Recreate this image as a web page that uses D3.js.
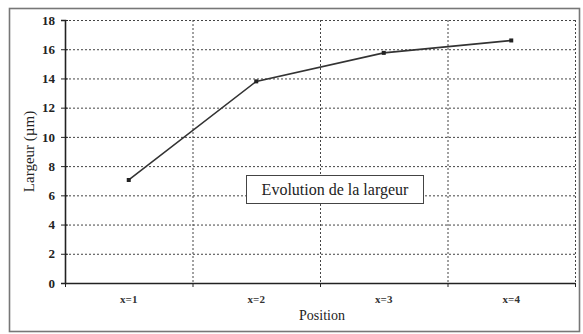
<!DOCTYPE html>
<html>
<head>
<meta charset="utf-8">
<script src="https://cdn.jsdelivr.net/npm/d3@7"></script>
<style>
  html, body { margin: 0; padding: 0; background: #fff; }
  svg { display: block; }
</style>
</head>
<body>
<svg id="chart" width="583" height="334"></svg>
<script>
// Largeur mesurée par position
const positions = ["x=1", "x=2", "x=3", "x=4"];
const largeurs = [7.05, 13.8, 15.75, 16.6];
const yTicks = [0, 2, 4, 6, 8, 10, 12, 14, 16, 18];
const seriesLabel = "Evolution de la largeur";
const xTitle = "Position";
const yTitle = "Largeur (µm)";

const svg = d3.select("#chart");
const plot = { left: 65, right: 575, top: 20, bottom: 283 };

// outer frame
svg.append("rect")
  .attr("x", 9.5).attr("y", 8.5)
  .attr("width", 570).attr("height", 323)
  .attr("fill", "#fff")
  .attr("stroke", "#777").attr("stroke-width", 1.6);

const x = d3.scaleBand().domain(positions).range([plot.left, plot.right]);
const y = d3.scaleLinear().domain([0, 18]).range([plot.bottom, plot.top]);

const serif = "'Liberation Serif', 'DejaVu Serif', serif";

// horizontal grid
svg.append("g")
  .selectAll("line")
  .data(yTicks.filter(d => d > 0))
  .join("line")
  .attr("x1", plot.left).attr("x2", plot.right)
  .attr("y1", d => y(d) + 0.5).attr("y2", d => y(d) + 0.5)
  .attr("stroke", "#444").attr("stroke-width", 1)
  .attr("stroke-dasharray", "2,2");

// vertical grid at category boundaries
const bounds = positions.slice(1).map(p => x(p)).concat([plot.right]);
svg.append("g")
  .selectAll("line")
  .data(bounds)
  .join("line")
  .attr("x1", d => d + 0.5).attr("x2", d => d + 0.5)
  .attr("y1", plot.top).attr("y2", plot.bottom)
  .attr("stroke", "#444").attr("stroke-width", 1)
  .attr("stroke-dasharray", "2,2");

// y axis
const yAxis = svg.append("g")
  .attr("transform", `translate(${plot.left},0)`)
  .call(d3.axisLeft(y).tickValues(yTicks).tickSize(4).tickPadding(6));
yAxis.select(".domain").attr("stroke", "#222").attr("stroke-width", 1.6);
yAxis.selectAll(".tick line").attr("x2", 3).attr("x1", -4).attr("stroke", "#222");
yAxis.selectAll("text")
  .attr("font-family", serif).attr("font-size", 13).attr("font-weight", "bold")
  .attr("fill", "#222");

// x axis
const xAxis = svg.append("g")
  .attr("transform", `translate(0,${plot.bottom})`)
  .call(d3.axisBottom(x).tickSize(0).tickPadding(12));
xAxis.select(".domain").attr("stroke", "#222").attr("stroke-width", 1.6);
xAxis.selectAll("text")
  .attr("font-family", serif).attr("font-size", 11).attr("font-weight", "bold")
  .attr("fill", "#333");
svg.append("g")
  .selectAll("line")
  .data([plot.left].concat(bounds))
  .join("line")
  .attr("x1", d => d + 0.5).attr("x2", d => d + 0.5)
  .attr("y1", plot.bottom).attr("y2", plot.bottom + 4)
  .attr("stroke", "#222");

// axis titles
svg.append("text")
  .attr("x", (plot.left + plot.right) / 2 + 2).attr("y", 320)
  .attr("text-anchor", "middle")
  .attr("font-family", serif).attr("font-size", 14)
  .attr("fill", "#222")
  .text(xTitle);

svg.append("text")
  .attr("transform", `translate(34,${(plot.top + plot.bottom) / 2}) rotate(-90)`)
  .attr("text-anchor", "middle")
  .attr("font-family", serif).attr("font-size", 15)
  .attr("fill", "#222")
  .text(yTitle);

// series line
const pts = positions.map((p, i) => [x(p) + x.bandwidth() / 2, y(largeurs[i])]);
svg.append("path")
  .attr("d", d3.line()(pts))
  .attr("fill", "none")
  .attr("stroke", "#333").attr("stroke-width", 1.6);

svg.append("g")
  .selectAll("rect")
  .data(pts)
  .join("rect")
  .attr("x", d => d[0] - 2).attr("y", d => d[1] - 2)
  .attr("width", 4).attr("height", 4)
  .attr("fill", "#222");

// legend label box
const lg = svg.append("g");
lg.append("rect")
  .attr("x", 246.5).attr("y", 175.5)
  .attr("width", 177).attr("height", 28)
  .attr("fill", "#fff")
  .attr("stroke", "#444").attr("stroke-width", 1);
lg.append("text")
  .attr("x", 335).attr("y", 195)
  .attr("text-anchor", "middle")
  .attr("font-family", serif).attr("font-size", 16)
  .attr("fill", "#222")
  .text(seriesLabel);
</script>
</body>
</html>
